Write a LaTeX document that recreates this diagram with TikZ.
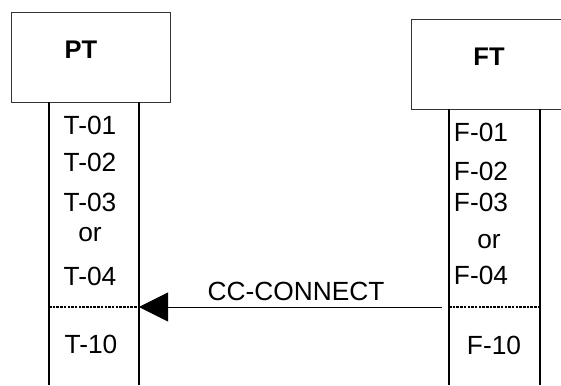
\documentclass[tikz,border=0pt]{standalone}
\usepackage{fontspec}
\setmainfont{Liberation Sans}
\usetikzlibrary{arrows.meta}
\begin{document}
\begin{tikzpicture}[x=1pt,y=-1pt,
  lbl/.style={font=\fontsize{26.3}{26}\selectfont, inner sep=0pt, anchor=base},
  head/.style={font=\fontsize{25.5}{25}\selectfont\bfseries, inner sep=0pt},
  entity/.style={draw=black!80, line width=0.9pt},
  life/.style={line width=1.8pt},
  sep/.style={line width=1.4pt, dash pattern=on 2.5pt off 1.2pt},
  msg/.style={line width=0.9pt, -{Triangle[length=29pt,width=29pt]}}]
\useasboundingbox (0,0) rectangle (561,385);
% PT
\draw[entity] (11,12) rectangle (170,102);
\node[head] (pt) at (81,50) {PT};
\draw[life] (49,102) -- (49,385);
\draw[life] (139,102) -- (139,385);
% FT
\draw[entity] (562,109) -- (411,109) -- (411,19) -- (562,19);
\node[head] (ft) at (489,57) {FT};
\draw[life] (449,109) -- (449,385);
\draw[life] (540,109) -- (540,385);
% PT labels
\node[lbl] (t01) at (90,134) {T-01};
\node[lbl] (t02) at (90,171) {T-02};
\node[lbl] (t03) at (90,211) {T-03};
\node[lbl] (tor) at (90,241) {or};
\node[lbl] (t04) at (90,285) {T-04};
\node[lbl] (t10) at (91,353) {T-10};
% FT labels
\node[lbl] (f01) at (481,141) {F-01};
\node[lbl] (f02) at (481,180) {F-02};
\node[lbl] (f03) at (481,211) {F-03};
\node[lbl] (for) at (489,248) {or};
\node[lbl] (f04) at (481,284) {F-04};
\node[lbl] (f10) at (494,354) {F-10};
% separators
\coordinate (pl) at (49,307);
\coordinate (pr) at (139,307);
\coordinate (fl) at (449,307);
\coordinate (fr) at (540,307);
\draw[sep] (pl) -- (pr);
\draw[sep] (fl) -- (fr);
% message
\coordinate (ms) at (442,307);
\draw[msg] (ms) -- (pr);
\node[lbl] (cc) at (296,300) {CC-CONNECT};
\end{tikzpicture}
\end{document}
